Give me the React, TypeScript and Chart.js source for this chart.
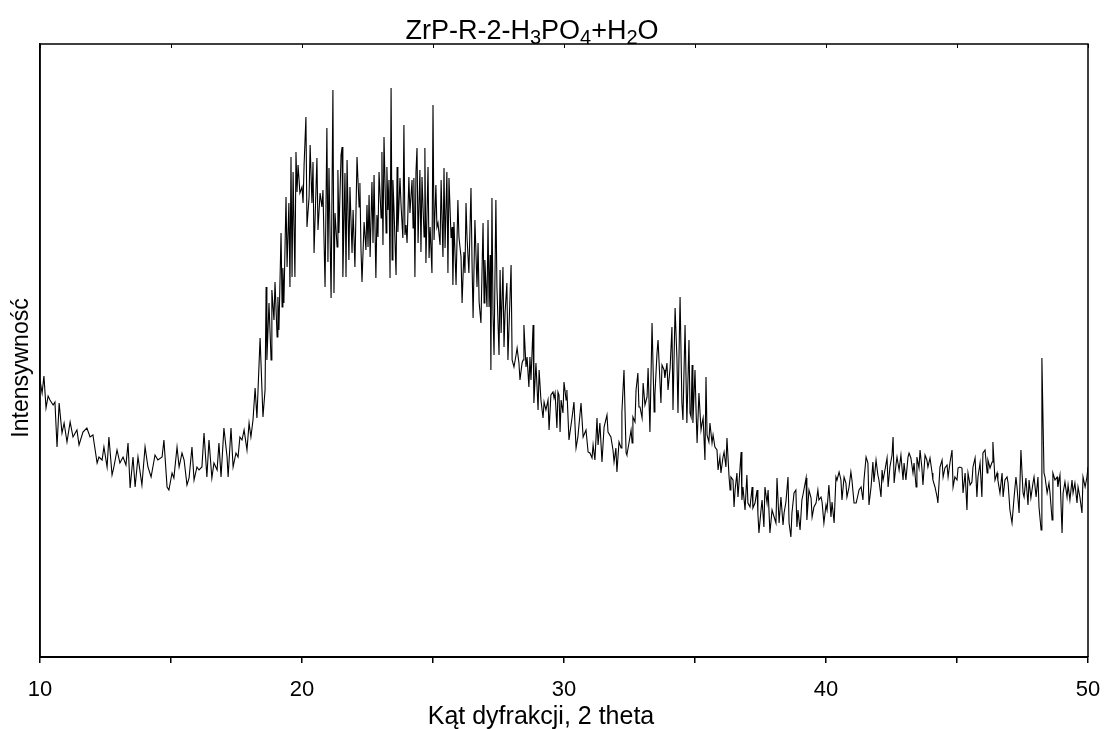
import React, { useEffect, useRef } from "react";
import { Chart, registerables } from "chart.js";

Chart.register(...registerables);

const FONT = "'Liberation Sans', Arial, sans-serif";

// 2θ (degrees)
const twoTheta = [
  10.00,10.08,10.15,10.23,10.31,10.38,10.50,10.57,10.65,10.73,
  10.84,10.92,11.03,11.15,11.26,11.41,11.49,11.64,11.79,11.91,
  12.02,12.18,12.25,12.37,12.44,12.56,12.63,12.75,12.82,12.94,
  13.05,13.17,13.28,13.36,13.44,13.55,13.63,13.74,13.89,14.01,
  14.12,14.24,14.39,14.50,14.66,14.73,14.85,14.92,15.04,15.11,
  15.23,15.31,15.42,15.50,15.61,15.69,15.80,15.88,15.99,16.07,
  16.18,16.26,16.37,16.45,16.56,16.64,16.76,16.83,16.91,17.02,
  17.14,17.18,17.29,17.37,17.48,17.56,17.63,17.71,17.79,17.90,
  17.98,18.05,18.13,18.21,18.28,18.40,18.51,18.59,18.63,18.66,
  18.74,18.82,18.85,18.93,18.97,19.05,19.08,19.12,19.20,19.24,
  19.27,19.31,19.39,19.43,19.50,19.54,19.58,19.62,19.66,19.73,
  19.77,19.81,19.85,19.92,20.00,20.04,20.08,20.15,20.19,20.27,
  20.31,20.38,20.42,20.46,20.57,20.61,20.69,20.76,20.80,20.88,
  20.95,20.99,21.03,21.11,21.18,21.22,21.26,21.34,21.37,21.41,
  21.49,21.53,21.56,21.64,21.68,21.72,21.79,21.83,21.91,21.95,
  22.02,22.10,22.18,22.21,22.25,22.29,22.37,22.44,22.48,22.52,
  22.56,22.60,22.67,22.71,22.75,22.82,22.86,22.90,22.94,23.02,
  23.05,23.09,23.13,23.21,23.24,23.28,23.32,23.36,23.40,23.44,
  23.47,23.51,23.59,23.63,23.66,23.74,23.78,23.85,23.89,23.93,
  23.97,24.01,24.08,24.12,24.20,24.24,24.27,24.31,24.35,24.39,
  24.43,24.50,24.54,24.58,24.66,24.69,24.73,24.81,24.85,24.89,
  24.96,25.00,25.04,25.11,25.15,25.19,25.27,25.31,25.38,25.42,
  25.46,25.53,25.57,25.61,25.69,25.73,25.76,25.80,25.88,25.95,
  25.99,26.07,26.11,26.18,26.22,26.26,26.30,26.37,26.45,26.49,
  26.53,26.60,26.68,26.72,26.76,26.83,26.91,26.95,26.98,27.06,
  27.10,27.14,27.18,27.21,27.25,27.29,27.33,27.40,27.44,27.52,
  27.56,27.60,27.67,27.71,27.75,27.82,27.86,27.98,28.02,28.09,
  28.17,28.21,28.28,28.32,28.40,28.44,28.47,28.55,28.59,28.66,
  28.70,28.74,28.82,28.85,28.93,29.01,29.05,29.12,29.20,29.24,
  29.31,29.39,29.43,29.50,29.58,29.62,29.66,29.73,29.77,29.81,
  29.85,29.89,29.96,30.00,30.08,30.11,30.19,30.31,30.38,30.46,
  30.53,30.65,30.73,30.84,30.92,30.99,31.07,31.11,31.18,31.26,
  31.30,31.37,31.45,31.53,31.64,31.68,31.79,31.87,31.91,31.98,
  32.02,32.10,32.18,32.21,32.29,32.37,32.40,32.48,32.56,32.60,
  32.63,32.71,32.75,32.82,32.86,32.90,32.98,33.02,33.09,33.17,
  33.21,33.28,33.36,33.44,33.47,33.55,33.59,33.70,33.74,33.82,
  33.85,33.93,33.97,34.05,34.12,34.16,34.24,34.31,34.35,34.43,
  34.50,34.54,34.62,34.69,34.77,34.81,34.85,34.89,34.92,35.00,
  35.04,35.08,35.15,35.23,35.27,35.31,35.38,35.42,35.46,35.53,
  35.57,35.65,35.69,35.76,35.84,35.88,35.95,35.99,36.07,36.11,
  36.18,36.22,36.30,36.34,36.37,36.45,36.49,36.53,36.60,36.64,
  36.68,36.76,36.79,36.83,36.91,36.98,37.02,37.10,37.18,37.21,
  37.29,37.37,37.40,37.44,37.52,37.56,37.63,37.67,37.75,37.79,
  37.86,37.94,38.02,38.09,38.13,38.21,38.28,38.36,38.40,38.47,
  38.55,38.59,38.66,38.70,38.78,38.85,38.89,38.93,39.01,39.08,
  39.12,39.24,39.27,39.35,39.43,39.47,39.54,39.62,39.69,39.73,
  39.81,39.85,39.92,40.00,40.04,40.11,40.19,40.23,40.31,40.38,
  40.42,40.50,40.57,40.61,40.69,40.76,40.80,40.88,40.95,40.99,
  41.07,41.15,41.22,41.26,41.34,41.41,41.45,41.53,41.60,41.64,
  41.72,41.79,41.83,41.91,41.98,42.02,42.10,42.14,42.18,42.25,
  42.33,42.37,42.44,42.52,42.56,42.60,42.67,42.71,42.79,42.86,
  42.94,42.98,43.05,43.13,43.17,43.24,43.32,43.36,43.44,43.47,
  43.55,43.59,43.66,43.70,43.78,43.85,43.89,43.97,44.05,44.08,
  44.16,44.24,44.27,44.35,44.43,44.47,44.54,44.62,44.66,44.73,
  44.81,44.85,44.92,45.00,45.04,45.11,45.19,45.23,45.31,45.38,
  45.42,45.50,45.57,45.61,45.69,45.76,45.80,45.88,45.95,45.99,
  46.07,46.15,46.18,46.26,46.34,46.37,46.45,46.53,46.56,46.64,
  46.72,46.76,46.83,46.91,46.95,47.02,47.10,47.18,47.25,47.29,
  47.37,47.44,47.52,47.56,47.63,47.71,47.75,47.82,47.90,47.94,
  48.02,48.09,48.13,48.21,48.24,48.32,48.36,48.44,48.51,48.55,
  48.63,48.66,48.74,48.82,48.85,48.93,49.01,49.05,49.12,49.20,
  49.24,49.31,49.39,49.43,49.50,49.58,49.62,49.69,49.77,49.81,
  49.89,49.96,50.00,
];

// intensity (a.u.)
const intensity = [
  277,264,281,249,261,257,252,255,210,254,
  224,234,215,235,220,227,212,225,229,220,
  222,194,200,197,210,190,220,182,190,207,
  194,200,192,214,169,200,170,200,172,210,
  190,180,202,197,200,217,170,167,184,179,
  210,190,204,197,172,179,210,177,190,187,
  190,224,180,217,179,194,187,214,180,229,
  200,180,229,190,204,200,220,217,227,207,
  234,220,237,269,239,319,240,267,370,297,
  354,297,367,337,375,320,360,327,424,350,
  389,354,460,390,454,370,500,380,485,380,
  505,465,492,464,470,454,492,540,430,460,
  512,454,495,404,499,427,464,450,467,370,
  529,395,489,359,567,364,444,410,487,424,
  502,510,380,484,380,497,397,470,404,447,
  390,500,450,474,409,375,435,407,452,410,
  462,400,475,414,482,379,442,420,485,439,
  505,412,520,424,490,447,477,379,569,397,
  477,449,382,490,425,479,452,419,532,422,
  432,414,480,444,477,429,479,380,485,509,
  414,487,405,480,420,509,394,490,399,430,
  384,552,417,472,430,434,412,477,400,489,
  409,485,384,479,419,430,372,435,372,457,
  420,400,354,405,384,454,419,384,469,394,
  339,437,370,414,355,334,434,354,397,350,
  437,350,402,287,459,344,302,457,370,302,
  387,324,390,310,344,374,297,392,297,290,
  302,309,294,277,294,297,332,290,300,270,
  300,277,332,254,294,247,287,257,239,255,
  247,257,227,262,265,259,264,229,265,262,
  225,257,244,275,257,267,217,240,255,209,
  220,254,220,227,205,204,199,212,197,239,
  212,234,195,230,242,225,220,207,195,209,
  185,215,209,245,287,204,202,214,227,214,
  240,235,267,284,250,250,239,274,252,260,
  289,225,334,245,262,304,317,254,292,287,
  279,294,267,289,330,247,349,299,244,360,
  254,237,332,234,317,244,240,292,234,287,
  247,214,264,227,234,239,197,280,222,215,
  234,214,222,210,207,187,200,184,200,205,
  190,219,180,167,180,177,150,167,184,160,
  174,205,157,170,147,182,154,150,170,149,
  154,167,144,124,147,157,130,170,154,167,
  124,147,140,134,179,134,160,132,144,155,
  180,134,120,144,164,167,130,147,127,157,
  162,179,137,167,159,140,150,154,167,157,
  160,155,134,152,147,172,140,155,134,180,
  177,185,177,157,180,174,160,170,185,177,
  154,154,162,167,170,157,177,200,194,152,
  170,195,175,197,182,177,160,187,177,187,
  199,170,190,202,220,174,192,200,187,202,
  177,194,177,200,204,199,184,194,170,200,
  189,207,189,172,202,197,190,199,184,177,
  170,160,154,190,197,180,189,192,180,194,
  207,170,180,177,189,190,189,164,184,147,
  184,172,175,190,199,160,180,194,160,204,
  207,184,197,189,195,215,177,184,177,164,
  184,160,177,180,174,147,134,160,180,170,
  144,207,164,160,179,152,177,159,174,180,
  160,180,150,127,299,184,180,164,174,164,
  137,184,177,180,170,182,124,164,175,160,
  172,157,177,164,174,154,170,160,144,180,
  170,180,190,
];

const xRange = [10, 50];
const xTickStep = 5;
const yRange = [0, 613];
// title pieces: even index = normal text, odd index = subscript
const titleSegments = ["ZrP-R-2-H", "3", "PO", "4", "+H", "2", "O"];
const xAxisTitle = "Kąt dyfrakcji, 2 theta";
const yAxisTitle = "Intensywność";

const framePlugin = {
  id: "frameAndTitle",
  afterDraw(chart: any) {
    const { ctx, chartArea } = chart;
    const { left, right, top, bottom } = chartArea;
    const xs = chart.scales.x;
    ctx.save();
    ctx.strokeStyle = "#000";
    ctx.lineWidth = 1.5;
    ctx.beginPath();
    ctx.moveTo(left, bottom);
    ctx.lineTo(left, top);
    ctx.lineTo(right, top);
    ctx.lineTo(right, bottom);
    ctx.stroke();
    ctx.lineWidth = 1;
    ctx.beginPath();
    for (let v = xRange[0]; v <= xRange[1]; v += xTickStep) {
      const px = Math.round(xs.getPixelForValue(v)) + 0.5;
      ctx.moveTo(px, top);
      ctx.lineTo(px, top + 4);
    }
    ctx.stroke();

    ctx.fillStyle = "#000";

    // title with subscripts
    const mainFont = `27px ${FONT}`;
    const subFont = `20px ${FONT}`;
    let total = 0;
    titleSegments.forEach((s, i) => {
      ctx.font = i % 2 ? subFont : mainFont;
      total += ctx.measureText(s).width;
    });
    let x = 532 - total / 2;
    const baseline = 39;
    ctx.textBaseline = "alphabetic";
    ctx.textAlign = "left";
    titleSegments.forEach((s, i) => {
      const sub = i % 2 === 1;
      ctx.font = sub ? subFont : mainFont;
      ctx.fillText(s, x, sub ? baseline + 5 : baseline);
      x += ctx.measureText(s).width;
    });

    // x axis title
    ctx.font = `25px ${FONT}`;
    ctx.textAlign = "center";
    ctx.textBaseline = "middle";
    ctx.fillText(xAxisTitle, 541, 717);

    // y axis title
    ctx.save();
    ctx.translate(22, 368);
    ctx.rotate(-Math.PI / 2);
    ctx.font = `23px ${FONT}`;
    ctx.textAlign = "center";
    ctx.textBaseline = "middle";
    ctx.fillText(yAxisTitle, 0, 0);
    ctx.restore();
    ctx.restore();
  },
};

export default function App() {
  const ref = useRef<HTMLCanvasElement | null>(null);
  useEffect(() => {
    if (!ref.current) return;
    const points = twoTheta.map((t, i) => ({ x: t, y: intensity[i] }));
    const chart = new Chart(ref.current, {
      type: "line",
      data: {
        datasets: [
          {
            data: points,
            borderColor: "#000",
            borderWidth: 1.1,
            pointRadius: 0,
            tension: 0,
            fill: false,
          },
        ],
      },
      options: {
        responsive: false,
        animation: false,
        events: [],
        layout: { padding: { top: 44, right: 19, left: 0, bottom: 0 } },
        plugins: { legend: { display: false }, tooltip: { enabled: false }, title: { display: false } },
        scales: {
          x: {
            type: "linear",
            min: xRange[0],
            max: xRange[1],
            afterFit: (s: any) => {
              s.height = 72;
              s.paddingLeft = 0;
              s.paddingRight = 0;
            },
            ticks: {
              stepSize: xTickStep,
              autoSkip: false,
              maxRotation: 0,
              color: "#000",
              padding: 14,
              font: { family: FONT, size: 22 },
              callback: (v: any) => (Number(v) % 10 === 0 ? String(v) : ""),
            },
            grid: { drawOnChartArea: false, tickLength: 6, color: "#000", lineWidth: 1.5 },
            border: { color: "#000", width: 2 },
            title: { display: false },
          },
          y: {
            type: "linear",
            min: yRange[0],
            max: yRange[1],
            afterFit: (s: any) => {
              s.width = 40;
              s.paddingTop = 0;
              s.paddingBottom = 0;
            },
            ticks: { display: false },
            grid: { drawOnChartArea: false, drawTicks: false },
            border: { color: "#000", width: 1.5 },
            title: { display: false },
          },
        },
      },
      plugins: [framePlugin],
    });
    return () => chart.destroy();
  }, []);
  return (
    <div style={{ position: "fixed", left: 0, top: 0, width: 1107, height: 729, background: "#fff" }}>
      <canvas ref={ref} width={1107} height={729} style={{ display: "block" }} />
    </div>
  );
}
